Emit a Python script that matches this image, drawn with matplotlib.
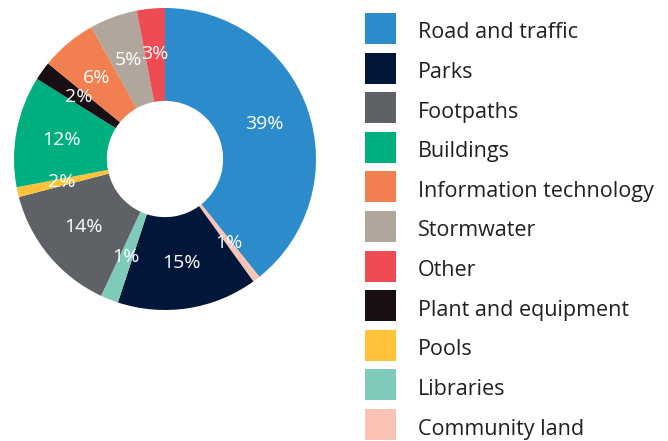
import matplotlib
matplotlib.use("Agg")
import matplotlib.pyplot as plt
from matplotlib.patches import Rectangle
import numpy as np

# Slice order (clockwise from 12 o'clock)
categories = ["Road and traffic", "Community land", "Parks", "Libraries", "Footpaths",
              "Pools", "Buildings", "Plant and equipment", "Information technology",
              "Stormwater", "Other"]
values = [39.25, 0.8, 15.0, 1.9, 14.0, 1.05, 11.9, 2.0, 6.0, 5.1, 3.0]
pct_labels = ["39%", "1%", "15%", "1%", "14%", "2%", "12%", "2%", "6%", "5%", "3%"]
colors = ["#2B8BCB", "#FAC3B5", "#011638", "#7ECBBB", "#5E6266", "#FFC23A",
          "#00AF7F", "#180E13", "#F27F4F", "#B0A69C", "#EE4B55"]

legend_order = ["Road and traffic", "Parks", "Footpaths", "Buildings",
                "Information technology", "Stormwater", "Other",
                "Plant and equipment", "Pools", "Libraries", "Community land"]

plt.rcParams['font.family'] = ['Open Sans', 'DejaVu Sans']

W, H = 668, 441
fig = plt.figure(figsize=(W / 100, H / 100), dpi=100)

cx, cy, R = 165, 159, 151
ax = fig.add_axes([(cx - R) / W, (H - cy - R) / H, 2 * R / W, 2 * R / H])
wedges, _ = ax.pie(values, colors=colors, startangle=90, counterclock=False,
                   radius=1.0, wedgeprops=dict(width=0.615, linewidth=0))
ax.set_xlim(-1, 1)
ax.set_ylim(-1, 1)
ax.set_aspect('equal')
ax.axis('off')

for w, lab in zip(wedges, pct_labels):
    ang = np.deg2rad((w.theta1 + w.theta2) / 2)
    r = 0.70
    ax.text(r * np.cos(ang), r * np.sin(ang), lab, ha='center', va='center',
            color='white', fontsize=14)

# Legend
lax = fig.add_axes([0, 0, 1, 1])
lax.set_xlim(0, W)
lax.set_ylim(H, 0)
lax.axis('off')
color_of = dict(zip(categories, colors))
for i, name in enumerate(legend_order):
    y0 = 13 + i * 39.6
    lax.add_patch(Rectangle((365, y0), 31, 31, facecolor=color_of[name], edgecolor='none'))
    lax.text(418, y0 + 25.5, name, ha='left', va='baseline', fontsize=15.5, color='#231F20')

fig.savefig("out.png", dpi=100)
